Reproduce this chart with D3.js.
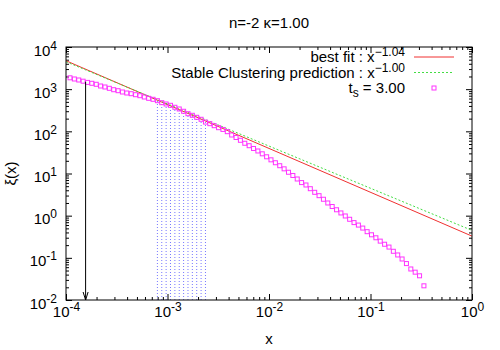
<!DOCTYPE html>
<html>
<head>
<meta charset="utf-8">
<script src="https://cdn.jsdelivr.net/npm/d3@7"></script>
<style>
  body { margin: 0; background: #fff; }
  svg { font-family: "Liberation Sans", Arial, sans-serif; }
</style>
</head>
<body>
<div id="chart"></div>
<script>
// ************data*********************************
const title = "n=-2 κ=1.00"

// separation x and correlation xi(x) at t_s = 3.00
const sepX = [1.095e-4, 1.209e-4, 1.335e-4, 1.474e-4, 1.628e-4, 1.797e-4, 1.985e-4, 2.192e-4, 2.420e-4, 2.672e-4,
  2.951e-4, 3.259e-4, 3.597e-4, 3.972e-4, 4.386e-4, 4.843e-4, 5.349e-4, 5.906e-4, 6.522e-4, 7.202e-4,
  7.953e-4, 8.779e-4, 9.694e-4, 1.070e-3, 1.182e-3, 1.305e-3, 1.441e-3, 1.591e-3, 1.757e-3, 1.940e-3,
  2.143e-3, 2.366e-3, 2.612e-3, 2.884e-3, 3.185e-3, 3.517e-3, 3.883e-3, 4.288e-3, 4.735e-3, 5.228e-3,
  5.773e-3, 6.375e-3, 7.039e-3, 7.773e-3, 8.583e-3, 9.476e-3, 1.046e-2, 1.156e-2, 1.276e-2, 1.409e-2,
  1.556e-2, 1.718e-2, 1.897e-2, 2.094e-2, 2.313e-2, 2.553e-2, 2.820e-2, 3.113e-2, 3.438e-2, 3.796e-2,
  4.192e-2, 4.629e-2, 5.111e-2, 5.643e-2, 6.232e-2, 6.881e-2, 7.598e-2, 8.389e-2, 9.264e-2, 0.1023,
  0.1130, 0.1247, 0.1377, 0.1521, 0.1679, 0.1854, 0.2047, 0.2260, 0.2496, 0.2756,
  0.3043, 0.3360]

const xiT3 = [1860, 1743, 1650, 1545, 1447, 1378, 1305, 1189, 1126, 1048,
  971, 920, 857, 811, 781, 739, 700, 652, 607, 575,
  533, 478, 445, 414, 372, 339, 299, 262, 240, 215,
  193, 166, 152, 136, 122, 111, 98.1, 81.9, 71.4, 61.3,
  52.1, 45.6, 39.2, 34.2, 29.3, 24.9, 21.1, 18.0, 15.3, 12.9,
  10.7, 8.97, 7.41, 6.09, 5.34, 4.36, 3.58, 2.98, 2.45, 2.00,
  1.65, 1.38, 1.16, 0.983, 0.821, 0.685, 0.598, 0.508, 0.417, 0.352,
  0.299, 0.249, 0.210, 0.180, 0.143, 0.117, 0.0939, 0.0731, 0.0544, 0.0457,
  0.0375, 0.0217]

const tsValue = 3.00

// range of points used for the fit (dotted drop lines)
const fitRange = [7.9e-4, 2.4e-3]

// power laws: amplitude * x^power
const fitNames = ["best fit : x", "Stable Clustering prediction : x"]
const fitPowers = [-1.04, -1.00]
const fitAmps = [0.327, 0.447]

// arrow marking the smallest resolved scale
const arrowX = 1.56e-4
const arrowTop = 1500

const xTickExp = [-4, -3, -2, -1, 0]
const yTickExp = [-2, -1, 0, 1, 2, 3, 4]

// ************layout***************
const margin = { top: 47, right: 28, bottom: 50, left: 66 }
const width = 500 - margin.left - margin.right
const height = 350 - margin.top - margin.bottom

const fitColors = ["#f03030", "#44dd44"]
const fitDash = [null, "2,2"]
const pointColor = "#ff33ff"

const x = d3.scaleLog().domain([1e-4, 1]).range([0, width])
const y = d3.scaleLog().domain([1e-2, 1e4]).range([height, 0])

const data = sepX.map((d, i) => ({ x: d, xi: xiT3[i] }))

const svg = d3.select("#chart")
  .append("svg")
  .attr("width", 500)
  .attr("height", 350)

svg.append("defs").append("clipPath")
  .attr("id", "clip")
  .append("rect")
  .attr("width", width)
  .attr("height", height)

const g = svg.append("g")
  .attr("transform", "translate(" + margin.left + ", " + margin.top + ")")

// ************ticks, inward on all four sides***************
const isDecade = d => Math.abs(Math.log10(d) - Math.round(Math.log10(d))) < 1e-6
const majorX = xTickExp.map(e => Math.pow(10, e))
const majorY = yTickExp.map(e => Math.pow(10, e))
const minorX = x.ticks().filter(d => !isDecade(d))
const minorY = y.ticks().filter(d => !isDecade(d))

function tickAxis(axis, values, size, tr) {
  const a = g.append("g")
    .attr("transform", tr)
    .call(axis.tickValues(values).tickSize(size).tickSizeOuter(0).tickFormat(""))
  a.select(".domain").remove()
  a.selectAll("line").attr("stroke", "#000")
  return a
}

tickAxis(d3.axisBottom(x), minorX, -3, "translate(0," + height + ")")
tickAxis(d3.axisTop(x), minorX, -3, "translate(0,0)")
tickAxis(d3.axisLeft(y), minorY, -3, "translate(0,0)")
tickAxis(d3.axisRight(y), minorY, -3, "translate(" + width + ",0)")
const xAx = tickAxis(d3.axisBottom(x), majorX, -6, "translate(0," + height + ")")
tickAxis(d3.axisTop(x), majorX, -6, "translate(0,0)")
const yAx = tickAxis(d3.axisLeft(y), majorY, -6, "translate(0,0)")
tickAxis(d3.axisRight(y), majorY, -6, "translate(" + width + ",0)")

function powLabel(sel, e) {
  sel.text(null)
  sel.append("tspan").text("10")
  sel.append("tspan").attr("dy", -6).style("font-size", "12px").text(e)
}

xAx.selectAll(".tick text")
  .attr("y", 17)
  .attr("dy", 0)
  .style("font-size", "15px")
  .attr("fill", "#000")
  .attr("text-anchor", "middle")
  .each(function(d) { powLabel(d3.select(this), Math.round(Math.log10(d))) })

yAx.selectAll(".tick text")
  .attr("x", -9)
  .attr("dy", 0)
  .attr("y", 8)
  .style("font-size", "15px")
  .attr("fill", "#000")
  .attr("text-anchor", "end")
  .each(function(d) { powLabel(d3.select(this), Math.round(Math.log10(d))) })

// ************marks***************
const plot = g.append("g").attr("clip-path", "url(#clip)")

// dotted drop lines under the fitted points
plot.selectAll(".drop")
  .data(data.filter(d => d.x >= fitRange[0] && d.x <= fitRange[1]))
  .enter()
  .append("line")
  .attr("class", "drop")
  .attr("x1", d => x(d.x))
  .attr("x2", d => x(d.x))
  .attr("y1", y(1e-2))
  .attr("y2", d => y(d.xi))
  .attr("stroke", "#7777ff")
  .attr("stroke-width", 1)
  .attr("stroke-dasharray", "1,2")

// power law lines
fitPowers.forEach(function(p, i) {
  const ends = x.domain().map(v => [x(v), y(fitAmps[i] * Math.pow(v, p))])
  plot.append("path")
    .attr("d", d3.line()(ends))
    .attr("fill", "none")
    .attr("stroke", fitColors[i])
    .attr("stroke-width", 1)
    .attr("stroke-dasharray", fitDash[i])
})

// measured points, open squares
plot.selectAll(".pt")
  .data(data)
  .enter()
  .append("rect")
  .attr("class", "pt")
  .attr("x", d => x(d.x) - 2)
  .attr("y", d => y(d.xi) - 2)
  .attr("width", 4)
  .attr("height", 4)
  .attr("fill", "none")
  .attr("stroke", pointColor)
  .attr("stroke-width", 1)

// arrow
const ax = x(arrowX)
const ay = y(1e-2)
plot.append("line")
  .attr("x1", ax).attr("x2", ax)
  .attr("y1", y(arrowTop)).attr("y2", ay)
  .attr("stroke", "#000")
plot.append("path")
  .attr("d", "M" + (ax - 2.5) + "," + (ay - 8) + "L" + ax + "," + ay + "L" + (ax + 2.5) + "," + (ay - 8))
  .attr("fill", "none")
  .attr("stroke", "#000")

// frame
g.append("rect")
  .attr("width", width)
  .attr("height", height)
  .attr("fill", "none")
  .attr("stroke", "#000")

// ************texts***************
svg.append("text")
  .attr("x", margin.left + width / 2)
  .attr("y", 28)
  .attr("text-anchor", "middle")
  .style("font-size", "15px")
  .text(title)

svg.append("text")
  .attr("x", margin.left + width / 2)
  .attr("y", 344)
  .attr("text-anchor", "middle")
  .style("font-size", "15px")
  .text("x")

svg.append("text")
  .attr("transform", "translate(16," + (margin.top + height / 2) + ") rotate(-90)")
  .attr("text-anchor", "middle")
  .style("font-size", "15px")
  .text("ξ(x)")

// ************legend***************
const legendY = [57, 72.5, 88]
const legendRight = 405

fitNames.forEach(function(name, i) {
  const t = svg.append("text")
    .attr("x", legendRight)
    .attr("y", legendY[i] + 5)
    .attr("text-anchor", "end")
    .style("font-size", "15px")
  t.append("tspan").text(name)
  t.append("tspan").attr("dy", -6).style("font-size", "12px").text(d3.format(".2f")(fitPowers[i]))
  svg.append("line")
    .attr("x1", 414).attr("x2", 454)
    .attr("y1", legendY[i]).attr("y2", legendY[i])
    .attr("stroke", fitColors[i])
    .attr("stroke-dasharray", fitDash[i])
})

const ts = svg.append("text")
  .attr("x", legendRight)
  .attr("y", legendY[2] + 5)
  .attr("text-anchor", "end")
  .style("font-size", "15px")
ts.append("tspan").text("t")
ts.append("tspan").attr("dy", 4).style("font-size", "12px").text("s")
ts.append("tspan").attr("dy", -4).text(" = " + d3.format(".2f")(tsValue))

svg.append("rect")
  .attr("x", 432).attr("y", legendY[2] - 2)
  .attr("width", 4).attr("height", 4)
  .attr("fill", "none")
  .attr("stroke", pointColor)
</script>
</body>
</html>
